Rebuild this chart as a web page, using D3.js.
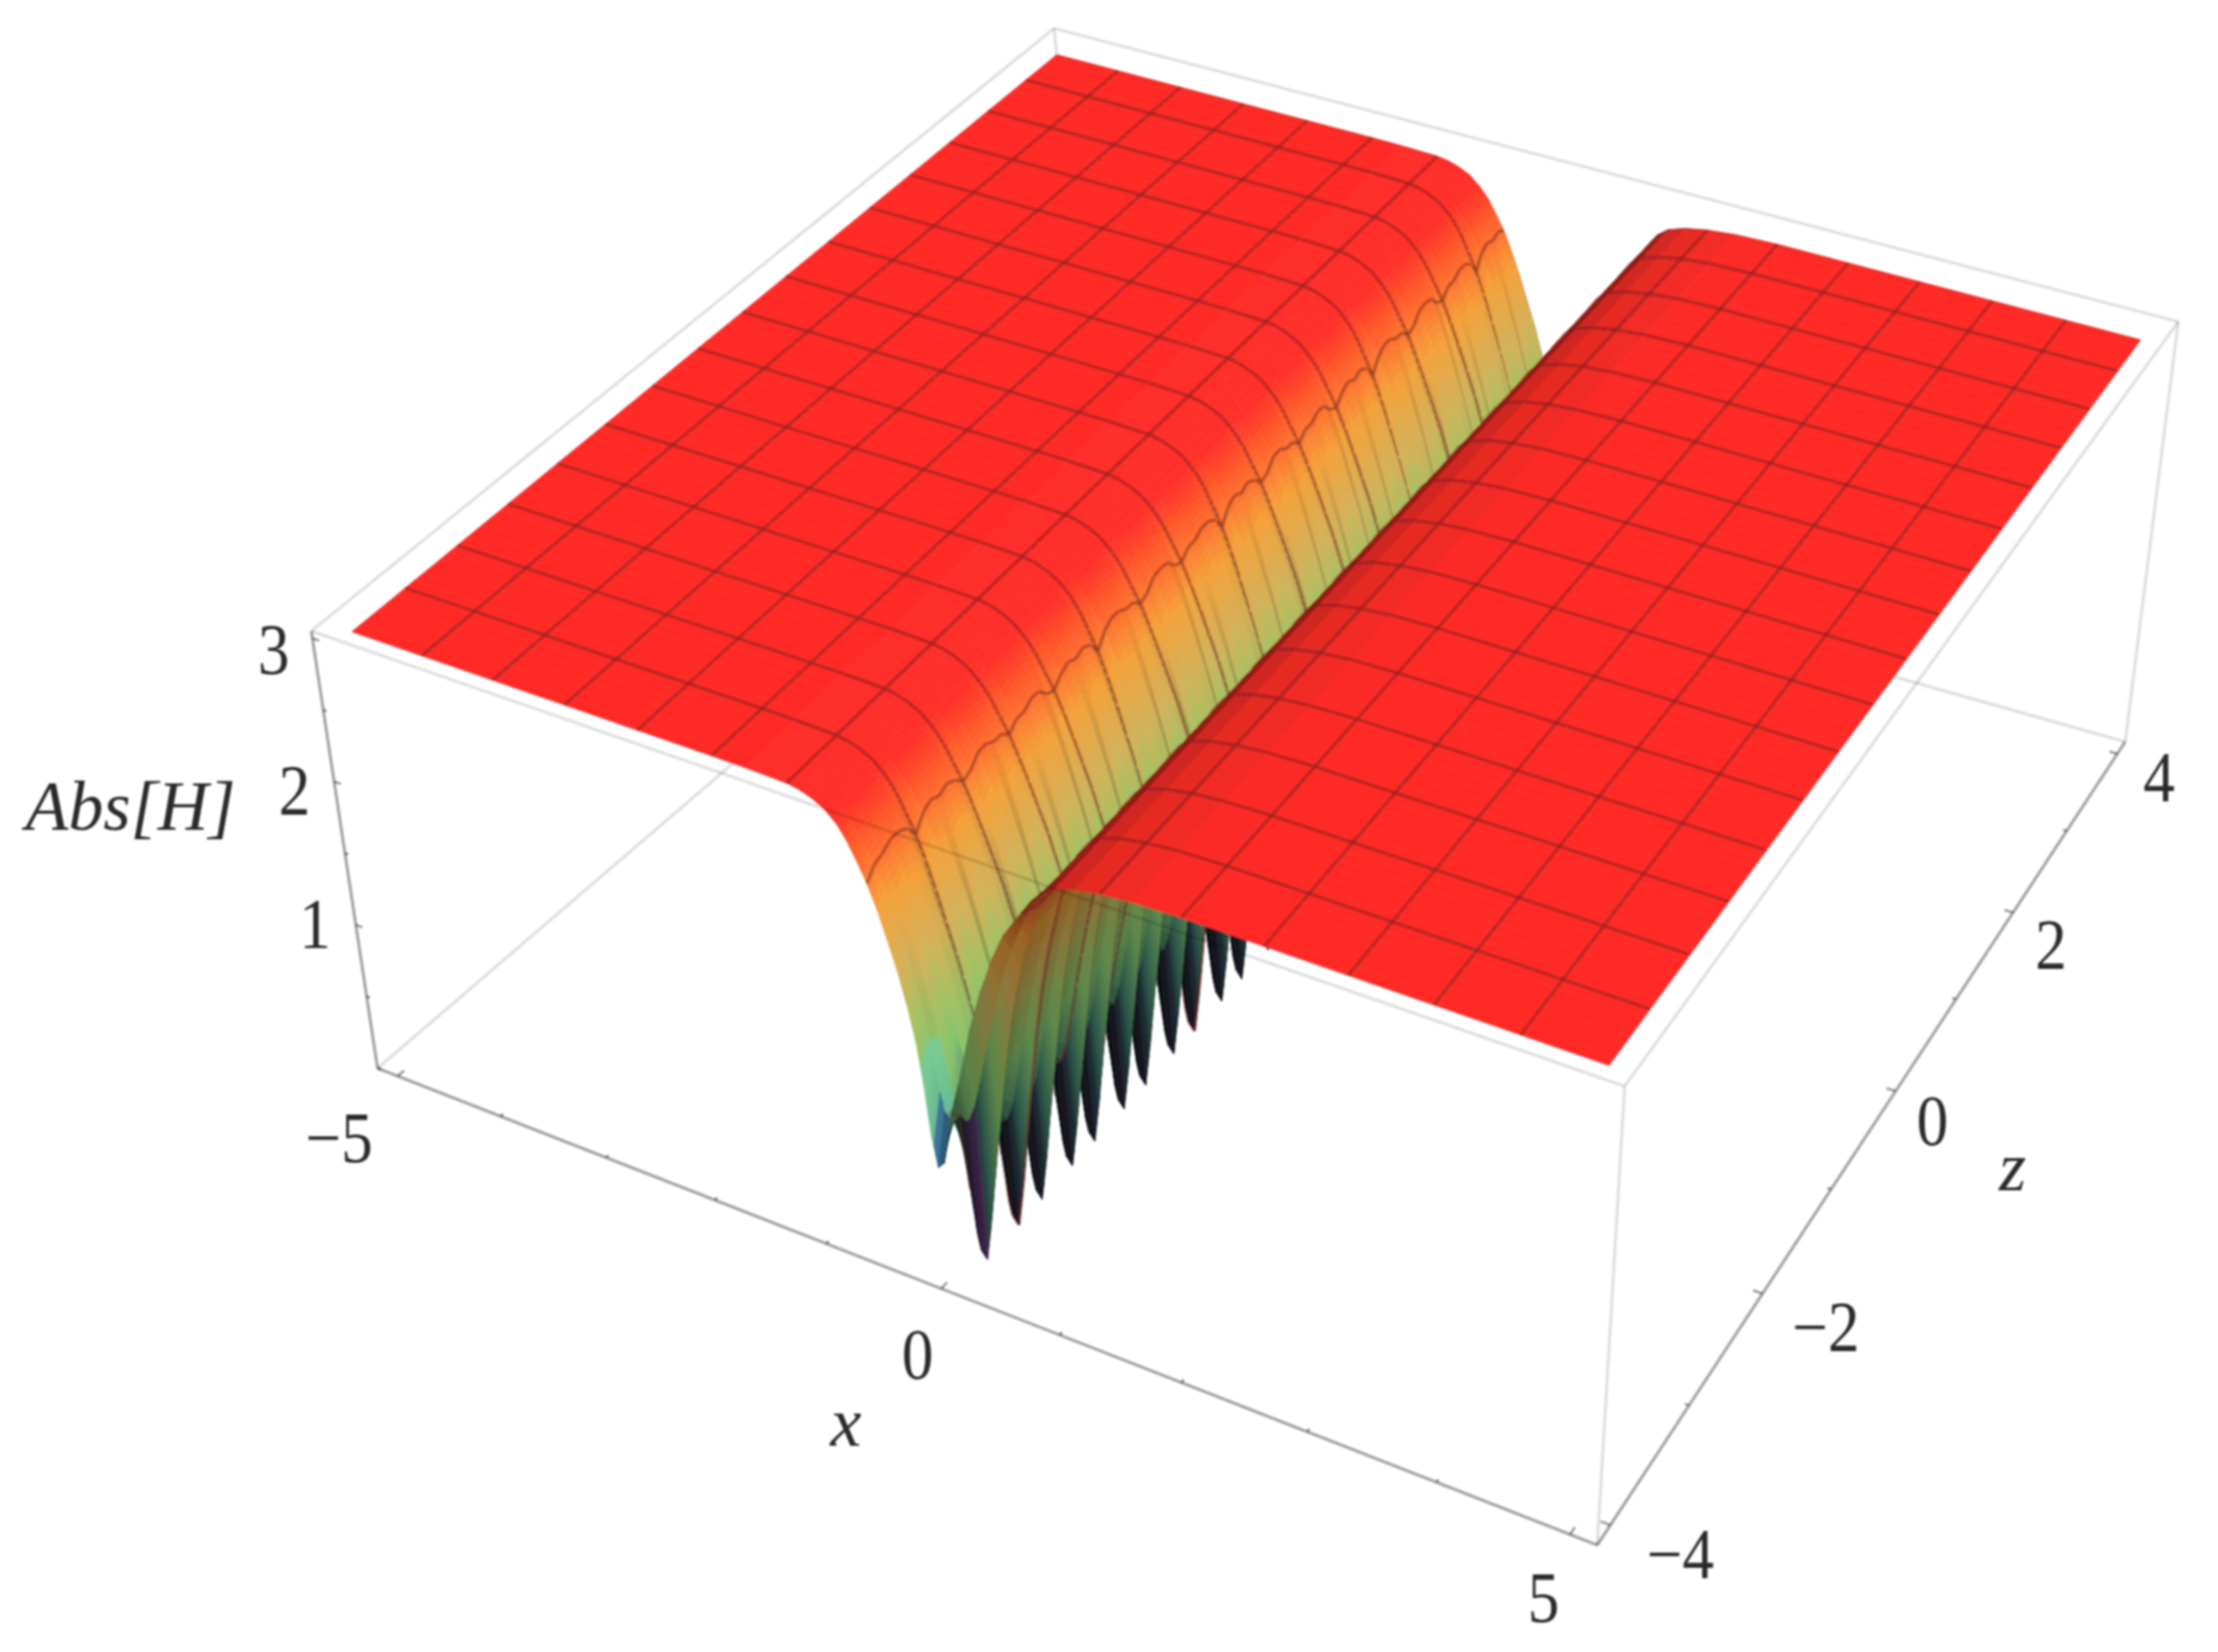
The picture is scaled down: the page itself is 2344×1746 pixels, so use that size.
<!DOCTYPE html>
<html>
<head>
<meta charset="utf-8">
<script src="https://d3js.org/d3.v7.min.js"></script>
<style>
html, body { margin: 0; padding: 0; background: #fff; }
svg { display: block; }
text { font-family: "Liberation Serif", serif; fill: #2a2a2a; }
</style>
</head>
<body>
<div id="myChart"></div>
<script>
var w = 2344;
var h = 1746;

// surface nodes across the trough
var xNodes = [-5, -4.375, -3.75, -3.125, -2.5, -1.875, -1.6, -1.25, -1.15, -1.05, -0.95, -0.85, -0.775, -0.7, -0.625, -0.55, -0.475, -0.4, -0.325, -0.275, -0.225, -0.175, -0.125, -0.075, -0.025, 0, 0.025, 0.05, 0.075, 0.125, 0.175, 0.225, 0.275, 0.325, 0.375, 0.425, 0.475, 0.55, 0.625, 0.7, 0.8, 0.9, 1.05, 1.25, 1.5, 1.875, 2.5, 3.125, 3.75, 4.375, 5];
var deepProfile = [3, 3, 3, 3, 3, 3, 2.998, 2.99, 2.98, 2.96, 2.93, 2.87, 2.8, 2.7, 2.58, 2.42, 2.22, 2, 1.78, 1.62, 1.45, 1.26, 1.05, 0.85, 0.6, 0.45, 0.3, 0.14, 0.05, 0, 0.3, 0.66, 1.02, 1.36, 1.66, 1.9, 2.1, 2.36, 2.58, 2.72, 2.84, 2.9, 2.94, 2.97, 2.99, 3, 3, 3, 3, 3, 3];
var shallowProfile = [3, 3, 3, 3, 3, 3, 2.998, 2.99, 2.98, 2.96, 2.93, 2.87, 2.81, 2.72, 2.62, 2.48, 2.32, 2.14, 1.96, 1.82, 1.68, 1.54, 1.4, 1.28, 1.14, 1.08, 1, 0.9, 0.85, 0.9, 1, 1.2, 1.42, 1.62, 1.82, 2, 2.16, 2.38, 2.58, 2.72, 2.84, 2.9, 2.94, 2.97, 2.99, 3, 3, 3, 3, 3, 3];
// the cut along the front edge z = -4 has its own shallower tooth, further left
var frontProfile = [3, 3, 3, 3, 3, 3, 2.998, 2.99, 2.98, 2.96, 2.93, 2.87, 2.8, 2.7, 2.58, 2.42, 2.22, 2, 1.74, 1.54, 1.26, 0.9, 0.68, 0.72, 0.95, 1.08, 1.16, 1.24, 1.32, 1.5, 1.7, 1.85, 2, 2.12, 2.25, 2.35, 2.45, 2.55, 2.65, 2.75, 2.84, 2.9, 2.94, 2.97, 2.99, 3, 3, 3, 3, 3, 3];
var archProfile = [0, 0, 0, 0, 0, 0, 0, 0, 0.005, 0.015, 0.03, 0.05, 0.07, 0.09, 0.1, 0.1, 0.09, 0.07, 0.05, 0.04, 0.03, 0.015, 0.005, 0, 0, 0, 0, 0, 0, 0, 0, 0, 0, 0, 0, 0, 0, 0, 0, 0, 0, 0, 0, 0, 0, 0, 0, 0, 0, 0, 0];

// rows along z
var zRows = [-4, -3.917, -3.833, -3.75, -3.667, -3.583, -3.5, -3.417, -3.333, -3.25, -3.167, -3.083, -3, -2.917, -2.833, -2.75, -2.667, -2.583, -2.5, -2.417, -2.333, -2.25, -2.167, -2.083, -2, -1.917, -1.833, -1.75, -1.667, -1.583, -1.5, -1.417, -1.333, -1.25, -1.167, -1.083, -1, -0.917, -0.833, -0.75, -0.667, -0.583, -0.5, -0.417, -0.333, -0.25, -0.167, -0.083, 0, 0.083, 0.167, 0.25, 0.333, 0.417, 0.5, 0.583, 0.667, 0.75, 0.833, 0.917, 1, 1.083, 1.167, 1.25, 1.333, 1.417, 1.5, 1.583, 1.667, 1.75, 1.833, 1.917, 2, 2.083, 2.167, 2.25, 2.333, 2.417, 2.5, 2.583, 2.667, 2.75, 2.833, 2.917, 3, 3.083, 3.167, 3.25, 3.333, 3.417, 3.5, 3.583, 3.667, 3.75, 3.833, 3.917, 4];
// how far each row drops from the shallow to the deep profile (the comb of spikes)
var rowDepth = [0, 0.2, 1, 0.12, 0, 0.12,
    1, 0.12, 0.12, 1, 0.12, 0, 0.12,
    1, 0.12, 0.12, 1, 0.12, 0, 0.12,
    1, 0.12, 0.12, 1, 0.12, 0, 0.12,
    1, 0.12, 0.12, 1, 0.12, 0, 0.12,
    1, 0.12, 0.12, 1, 0.12, 0, 0.12,
    1, 0.12, 0.12, 1, 0.12, 0, 0.12,
    1, 0.12, 0.12, 1, 0.12, 0, 0.12,
    1, 0.12, 0.12, 1, 0.12, 0, 0.12,
    1, 0.12, 0.12, 1, 0.12, 0, 0.12,
    1, 0.12, 0.12, 1, 0.12, 0, 0.12,
    1, 0.12, 0.12, 1, 0.12, 0, 0.12,
    1, 0.12, 0.12, 1, 0.12, 0, 0.12,
    1, 0.12, 0.12, 1, 0.12, 0];
// arches on the shoulder of the wall, one per mesh cell
var rowArch = [1, 0.4, 0.05, 0, 0.05, 0.4,
    1, 0.4, 0.05, 0, 0.05, 0.4,
    1, 0.4, 0.05, 0, 0.05, 0.4,
    1, 0.4, 0.05, 0, 0.05, 0.4,
    1, 0.4, 0.05, 0, 0.05, 0.4,
    1, 0.4, 0.05, 0, 0.05, 0.4,
    1, 0.4, 0.05, 0, 0.05, 0.4,
    1, 0.4, 0.05, 0, 0.05, 0.4,
    1, 0.4, 0.05, 0, 0.05, 0.4,
    1, 0.4, 0.05, 0, 0.05, 0.4,
    1, 0.4, 0.05, 0, 0.05, 0.4,
    1, 0.4, 0.05, 0, 0.05, 0.4,
    1, 0.4, 0.05, 0, 0.05, 0.4,
    1, 0.4, 0.05, 0, 0.05, 0.4,
    1, 0.4, 0.05, 0, 0.05, 0.4,
    1, 0.4, 0.05, 0, 0.05, 0.4, 1];

// mesh lines on the surface
var meshX = [-4.375, -3.75, -3.125, -2.5, -1.875, -1.25, -0.625, 0, 0.625, 1.25, 1.875, 2.5, 3.125, 3.75, 4.375];
var meshZ = [-3.5, -3, -2.5, -2, -1.5, -1, -0.5, 0, 0.5, 1, 1.5, 2, 2.5, 3, 3.5];

// tick values and labels
var xTicks = [-5, -4, -3, -2, -1, 0, 1, 2, 3, 4, 5];
var xLabels = [-5, 0, 5];
var zTicks = [-4, -3, -2, -1, 0, 1, 2, 3, 4];
var zLabels = [-4, -2, 0, 2, 4];
var hTicks = [0, 0.5, 1, 1.5, 2, 2.5, 3];
var hLabels = [1, 2, 3];

// colour by height
var colorHeights = [0, 0.15, 0.3, 0.5, 0.75, 1.3, 1.6, 1.95, 2.35, 2.7, 2.88, 3];
var colorValues = ["#0e0618", "#1a1028", "#241c34", "#2a3a48", "#3e7a68", "#84c06c", "#a0bd62", "#d0ae58", "#f09e3a", "#ff5a2b", "#ff2f29", "#ff2c28"];

// tints of the first spikes at the front edge
var tintRows = [0, 1, 2];
var tintColors = ["#2a62b0", "#8a3a9a", "#8a3a9a"];
var tintLimits = [0.95, 0.6, 0.6];
var tealRows = [0, 1];
var tealColor = "#6fd0ac";

var xScale = d3.scaleLinear().domain([-5.2, 5.2]).range([0, 1]);
var zScale = d3.scaleLinear().domain([-4.16, 4.16]).range([0, 1]);
var hScale = d3.scaleLinear().domain([0, 3.05]).range([0, 1]);
var colorScale = d3.scaleLinear().domain(colorHeights).range(colorValues).clamp(true);

// screen corners of the box: (u,v) = (0,0) (1,0) (1,1) (0,1)
var topMap = squareToQuad([[329, 667], [1717, 1148], [2302, 340], [1114, 30]]);
var bottomMap = squareToQuad([[399, 1129], [1688, 1633], [2246, 784], [1158, 478]]);

function squareToQuad(q) {
    var dx1 = q[1][0] - q[2][0], dx2 = q[3][0] - q[2][0], sx = q[0][0] - q[1][0] + q[2][0] - q[3][0];
    var dy1 = q[1][1] - q[2][1], dy2 = q[3][1] - q[2][1], sy = q[0][1] - q[1][1] + q[2][1] - q[3][1];
    var den = dx1 * dy2 - dx2 * dy1;
    var g = (sx * dy2 - dx2 * sy) / den;
    var k = (dx1 * sy - sx * dy1) / den;
    var a = q[1][0] - q[0][0] + g * q[1][0], b = q[3][0] - q[0][0] + k * q[3][0], c = q[0][0];
    var d = q[1][1] - q[0][1] + g * q[1][1], e = q[3][1] - q[0][1] + k * q[3][1], f = q[0][1];
    return function(u, v) {
        var m = g * u + k * v + 1;
        return [(a * u + b * v + c) / m, (d * u + e * v + f) / m];
    };
}

function projectUV(u, v, t) {
    var p = topMap(u, v), q = bottomMap(u, v);
    return [q[0] + (p[0] - q[0]) * t, q[1] + (p[1] - q[1]) * t];
}

function project(x, z, val) {
    return projectUV(xScale(x), zScale(z), hScale(val));
}

function heightAt(i, j) {
    if (j == 0) return frontProfile[i] - rowArch[j] * archProfile[i];
    var first = rowDepth[j] * (deepProfile[i] - shallowProfile[i]) + shallowProfile[i];
    if (j == 1) first = (first + frontProfile[i]) / 2;
    return first - rowArch[j] * archProfile[i];
}

var lightDir = [0.6, -0.3, 0.74];
var viewDir = [0.5, -0.57, 0.62];

function dot(a, b) { return a[0] * b[0] + a[1] * b[1] + a[2] * b[2]; }

function shadeColor(cell, j) {
    var a = [xScale(cell.x1) - xScale(cell.x0), zScale(cell.z1) - zScale(cell.z0), 0.4 * hScale(cell.h11 - cell.h00)];
    var b = [xScale(cell.x0) - xScale(cell.x1), zScale(cell.z1) - zScale(cell.z0), 0.4 * hScale(cell.h01 - cell.h10)];
    var n = [a[1] * b[2] - a[2] * b[1], a[2] * b[0] - a[0] * b[2], a[0] * b[1] - a[1] * b[0]];
    if (n[2] < 0) n = [-n[0], -n[1], -n[2]];
    var len = Math.sqrt(dot(n, n));
    n = [n[0] / len, n[1] / len, n[2] / len];
    var under = dot(n, viewDir) < 0;
    var lit = under ? -dot(n, lightDir) : dot(n, lightDir);
    var f = 0.45 + 0.75 * lit;
    if (under) f = f * 0.8;
    f = Math.max(0.35, Math.min(1.02, f));
    var mean = (cell.h00 + cell.h10 + cell.h11 + cell.h01) / 4;
    var base = colorScale(mean);
    var t = tintRows.indexOf(j);
    if (t >= 0 && mean < tintLimits[t]) base = d3.interpolateRgb(base, tintColors[t])(0.6);
    if (tealRows.indexOf(j) >= 0 && mean >= 1 && mean < 1.45 && !under) {
        base = d3.interpolateRgb(base, tealColor)(0.6);
        f = 1;
    }
    var c = d3.rgb(base);
    return d3.rgb(c.r * f, c.g * f, c.b * f).toString();
}

// painter's order: camera sits at +x, -z, so far columns and rows go first
var items = [];
for (var i = 0; i < xNodes.length - 1; i++) {
    for (var j = zRows.length - 2; j >= 0; j--) {
        var h00 = heightAt(i, j), h10 = heightAt(i + 1, j), h11 = heightAt(i + 1, j + 1), h01 = heightAt(i, j + 1);
        // steep cells are split across x so the colour runs smoothly
        var parts = Math.max(Math.abs(h10 - h00), Math.abs(h11 - h01)) > 0.02 ? 3 : 1;
        for (var s = 0; s < parts; s++) {
            var a0 = s / parts, a1 = (s + 1) / parts;
            var dx = xNodes[i + 1] - xNodes[i];
            var cell = {
                x0: xNodes[i] + dx * a0, x1: xNodes[i] + dx * a1, z0: zRows[j], z1: zRows[j + 1],
                h00: h00 + (h10 - h00) * a0, h10: h00 + (h10 - h00) * a1,
                h01: h01 + (h11 - h01) * a0, h11: h01 + (h11 - h01) * a1
            };
            var pts = [project(cell.x0, cell.z0, cell.h00), project(cell.x1, cell.z0, cell.h10), project(cell.x1, cell.z1, cell.h11), project(cell.x0, cell.z1, cell.h01)];
            items.push({ kind: "cell", pts: pts, color: shadeColor(cell, j) });
            if (s == 0 && meshX.indexOf(xNodes[i]) >= 0) {
                items.push({ kind: "mesh", pts: [pts[0], pts[3]] });
            }
            if (meshZ.indexOf(zRows[j + 1]) >= 0) {
                items.push({ kind: "mesh", pts: [pts[3], pts[2]] });
            }
        }
    }
}

var svg = d3.select("#myChart")
    .append("svg")
    .attr("width", w)
    .attr("height", h);

svg.append("defs").append("filter")
    .attr("id", "soft")
    .attr("filterUnits", "userSpaceOnUse")
    .attr("x", 0).attr("y", 0).attr("width", w).attr("height", h)
    .append("feGaussianBlur")
    .attr("stdDeviation", 1.2);

var root = svg.append("g").attr("filter", "url(#soft)");
var lineGen = d3.line();

function boxLine(a, b, opacity) {
    root.append("path")
        .attr("d", lineGen([projectUV(a[0], a[1], a[2]), projectUV(b[0], b[1], b[2])]))
        .attr("fill", "none")
        .attr("stroke", "#000")
        .attr("stroke-opacity", opacity)
        .attr("stroke-width", 3.2);
}

var lightEdge = 0.13;
var axisEdge = 0.36;

// back edges go under the surface
boxLine([0, 0, 0], [0, 1, 0], lightEdge);
boxLine([0, 1, 0], [1, 1, 0], lightEdge);
boxLine([0, 1, 0], [0, 1, 1], lightEdge);
boxLine([0, 0, 1], [0, 1, 1], lightEdge);
boxLine([0, 1, 1], [1, 1, 1], lightEdge);

root.selectAll("path.item")
    .data(items)
    .enter()
    .append("path")
    .attr("class", "item")
    .attr("d", function(d) {
        return lineGen(d.pts) + (d.kind == "cell" ? "Z" : "");
    })
    .attr("fill", function(d) { return d.kind == "cell" ? d.color : "none"; })
    .attr("stroke", function(d) { return d.kind == "cell" ? d.color : "#6b2020"; })
    .attr("stroke-width", function(d) { return d.kind == "cell" ? 0.8 : 3.6; })
    .attr("stroke-opacity", function(d) { return d.kind == "cell" ? 1 : 0.45; });

// front edges stay on top
boxLine([0, 0, 1], [1, 0, 1], lightEdge);
boxLine([1, 0, 1], [1, 1, 1], lightEdge);
boxLine([1, 0, 0], [1, 0, 1], lightEdge);
boxLine([1, 1, 0], [1, 1, 1], lightEdge);
boxLine([0, 0, 0], [0, 0, 1], axisEdge);
boxLine([0, 0, 0], [1, 0, 0], axisEdge);
boxLine([1, 0, 0], [1, 1, 0], axisEdge);

function tick(p, q) {
    root.append("path")
        .attr("d", lineGen([p, q]))
        .attr("stroke", "#000")
        .attr("stroke-opacity", 0.4)
        .attr("stroke-width", 2.6);
}

xTicks.forEach(function(t) {
    var u = xScale(t), len = xLabels.indexOf(t) >= 0 ? 0.007 : 0.003;
    tick(projectUV(u, 0, 0), projectUV(u, len, 0));
});
zTicks.forEach(function(t) {
    var v = zScale(t), len = zLabels.indexOf(t) >= 0 ? 0.007 : 0.003;
    tick(projectUV(1, v, 0), projectUV(1 - len, v, 0));
});
hTicks.forEach(function(t) {
    var len = hLabels.indexOf(t) >= 0 ? 0.006 : 0.003;
    tick(projectUV(0, 0, hScale(t)), projectUV(len, 0, hScale(t)));
});

function label(text, p, italic, size, squeeze) {
    root.append("text")
        .attr("transform", "translate(" + p[0] + "," + p[1] + ") scale(" + squeeze + ",1)")
        .attr("text-anchor", "middle")
        .attr("dominant-baseline", "central")
        .attr("font-size", size)
        .attr("font-style", italic ? "italic" : "normal")
        .text(text);
}

function numberText(t) {
    return t < 0 ? "\u2212" + Math.abs(t) : String(t);
}

var xOffset = d3.scaleLinear().domain([-5, 0, 5]).range([[-62, 65], [-25, 69], [-28, 66]]);
var zOffset = d3.scaleLinear().domain([-4, -2, 0, 2, 4]).range([[74, 30], [67, 35], [39, 31], [40, 34], [44, 24]]);
var hOffset = d3.scaleLinear().domain([1, 2, 3]).range([[-43, -2], [-42, 9], [-41, 11]]);

xLabels.forEach(function(t) {
    var p = project(t, -4.16, 0), o = xOffset(t);
    label(numberText(t), [p[0] + o[0], p[1] + o[1]], false, 76, 0.88);
});
zLabels.forEach(function(t) {
    var p = project(5.2, t, 0), o = zOffset(t);
    label(numberText(t), [p[0] + o[0], p[1] + o[1]], false, 76, 0.88);
});
hLabels.forEach(function(t) {
    var p = project(-5.2, -4.16, t), o = hOffset(t);
    label(numberText(t), [p[0] + o[0], p[1] + o[1]], false, 76, 0.88);
});

label("Abs[H]", [138, 852], true, 74, 1);
label("x", [894, 1503], true, 74, 1);
label("z", [2127, 1233], true, 74, 1);
</script>
</body>
</html>
